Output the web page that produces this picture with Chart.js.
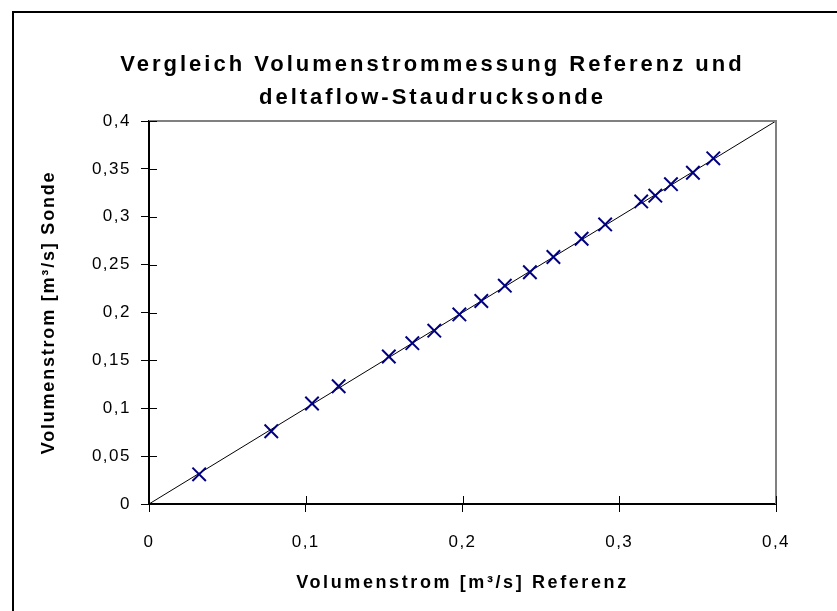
<!DOCTYPE html>
<html>
<head>
<meta charset="utf-8">
<script src="https://cdn.jsdelivr.net/npm/chart.js@4/dist/chart.umd.min.js"></script>
<style>
html,body{margin:0;padding:0;background:#fff;}
#wrap{width:837px;height:611px;position:relative;}
</style>
</head>
<body>
<div id="wrap"><canvas id="c" width="837" height="611"></canvas></div>
<script>
// Data
const referenz = [0.032, 0.078, 0.104, 0.121, 0.153, 0.168, 0.182, 0.198, 0.212, 0.227, 0.243, 0.258, 0.276, 0.291, 0.314, 0.323, 0.333, 0.347, 0.360];
const sonde    = [0.031, 0.076, 0.105, 0.123, 0.154, 0.168, 0.181, 0.198, 0.212, 0.228, 0.242, 0.258, 0.277, 0.292, 0.316, 0.322, 0.334, 0.346, 0.361];
const idealLineX = [0, 0.4];
const idealLineY = [0, 0.4];
const titleLines = ['Vergleich Volumenstrommessung Referenz und', 'deltaflow-Staudrucksonde'];
const xTitle = 'Volumenstrom [m³/s] Referenz';
const yTitle = 'Volumenstrom [m³/s] Sonde';

const FONT = "'Liberation Sans', Arial, sans-serif";
const fmt = v => (Math.round(v * 100) / 100).toLocaleString('de-DE');

const frame = {
  id: 'frame',
  beforeDraw(chart) {
    const ctx = chart.ctx;
    if (!chart.$wrapped) {
      chart.$wrapped = true;
      const wrap = (obj, name, sp, dx) => {
        if (!obj || !obj[name]) return;
        const orig = obj[name];
        obj[name] = function (...args) {
          const c = chart.ctx;
          c.save();
          c.letterSpacing = sp;
          if (dx) c.translate(dx, 0);
          const r = orig.apply(this, args);
          c.restore();
          return r;
        };
      };
      wrap(chart.titleBlock, 'draw', '3px', 32);
      wrap(chart.scales.x, 'drawTitle', '2.6px');
      wrap(chart.scales.y, 'drawTitle', '1.8px');
      wrap(chart.scales.x, 'drawLabels', '1.5px');
      wrap(chart.scales.y, 'drawLabels', '1.5px');
    }
    ctx.save();
    ctx.fillStyle = '#fff';
    ctx.fillRect(0, 0, chart.width, chart.height);
    ctx.strokeStyle = '#000';
    ctx.lineWidth = 2;
    ctx.strokeRect(13, 12, 900, 700);
    ctx.restore();
  },
  afterDatasetsDraw(chart) {
    const ctx = chart.ctx, a = chart.chartArea;
    const xs = chart.scales.x, ys = chart.scales.y;
    ctx.save();
    ctx.strokeStyle = '#808080';
    ctx.lineWidth = 2;
    ctx.beginPath();
    ctx.moveTo(a.left, a.top);
    ctx.lineTo(a.right, a.top);
    ctx.lineTo(a.right, a.bottom);
    ctx.stroke();
    ctx.strokeStyle = '#000';
    ctx.lineWidth = 1;
    ctx.beginPath();
    xs.ticks.forEach(t => {
      const px = Math.round(xs.getPixelForValue(t.value)) + 0.5;
      ctx.moveTo(px, a.bottom);
      ctx.lineTo(px, a.bottom - 8);
    });
    ys.ticks.forEach(t => {
      const py = Math.round(ys.getPixelForValue(t.value)) + 0.5;
      ctx.moveTo(a.left, py);
      ctx.lineTo(a.left + 8, py);
    });
    ctx.stroke();
    ctx.restore();
  }
};

const chart = new Chart(document.getElementById('c'), {
  type: 'scatter',
  data: {
    datasets: [
      {
        label: 'Ideal',
        data: idealLineX.map((x, i) => ({x, y: idealLineY[i]})),
        showLine: true,
        borderColor: '#000',
        borderWidth: 1,
        pointRadius: 0,
        order: 2
      },
      {
        label: 'Messung',
        data: referenz.map((x, i) => ({x, y: sonde[i]})),
        pointStyle: 'crossRot',
        pointRadius: 9.5,
        pointBorderWidth: 2,
        borderColor: '#000080',
        backgroundColor: '#000080',
        showLine: false,
        order: 1
      }
    ]
  },
  plugins: [frame],
  options: {
    responsive: false,
    animation: false,
    devicePixelRatio: 1,
    layout: {padding: {left: 25, right: 61, top: 0, bottom: 0}},
    plugins: {
      legend: {display: false},
      tooltip: {enabled: false},
      title: {
        display: true,
        text: titleLines,
        color: '#000',
        font: {family: FONT, size: 22, weight: 'bold', lineHeight: 1.5},
        padding: {top: 48, bottom: 7}
      }
    },
    scales: {
      x: {
        type: 'linear',
        min: 0, max: 0.4,
        afterFit: s => { s.height = 107; },
        ticks: {stepSize: 0.1, color: '#000', padding: 20, font: {family: FONT, size: 17}, callback: v => fmt(v)},
        grid: {drawOnChartArea: false, drawTicks: true, tickLength: 8, color: '#000'},
        border: {color: '#000', width: 2},
        title: {display: true, text: xTitle, color: '#000', padding: {top: 0, bottom: 17}, font: {family: FONT, size: 18, weight: 'bold'}}
      },
      y: {
        type: 'linear',
        min: 0, max: 0.4,
        afterFit: s => { s.width = 124; },
        ticks: {stepSize: 0.05, color: '#000', padding: 10, font: {family: FONT, size: 17}, callback: v => fmt(v)},
        grid: {drawOnChartArea: false, drawTicks: true, tickLength: 8, color: '#000'},
        border: {color: '#000', width: 2},
        title: {display: true, text: yTitle, color: '#000', padding: {top: 13, bottom: 0}, font: {family: FONT, size: 18, weight: 'bold'}}
      }
    }
  }
});
</script>
</body>
</html>
